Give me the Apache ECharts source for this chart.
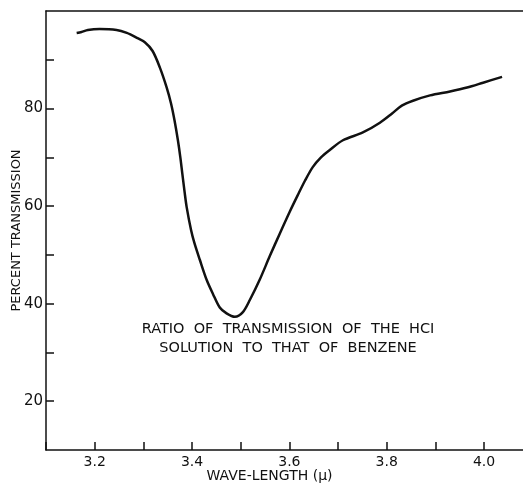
<!DOCTYPE html>
<html>
<head>
<meta charset="utf-8">
<script src="https://cdn.jsdelivr.net/npm/echarts@6/dist/echarts.min.js"></script>
<style>
  html, body { margin: 0; padding: 0; background: #fff; }
  #chart { width: 523px; height: 485px; }
</style>
</head>
<body>
<div id="chart"></div>
<script>
// wave-length (micron) and percent transmission
const waveLength = [
    3.163, 3.173, 3.186, 3.210, 3.245, 3.266, 3.285, 3.303, 3.319, 3.334,
    3.348, 3.357, 3.364, 3.371, 3.376, 3.380, 3.385, 3.389, 3.398, 3.405,
    3.416, 3.430, 3.443, 3.457, 3.471, 3.488, 3.504, 3.519, 3.539, 3.560,
    3.580, 3.601, 3.617, 3.632, 3.648, 3.665, 3.683, 3.710, 3.751, 3.786,
    3.811, 3.831, 3.854, 3.889, 3.930, 3.965, 3.998, 4.037
];
const transmission = [
    95.5, 95.7, 96.1, 96.3, 96.1, 95.5, 94.6, 93.6, 91.8, 88.4,
    84.3, 81.0, 77.6, 73.5, 70.0, 66.7, 62.7, 59.8, 55.1, 52.4,
    49.0, 44.9, 42.0, 39.2, 38.0, 37.3, 38.2, 40.8, 44.9, 49.8,
    54.3, 58.9, 62.2, 65.2, 68.0, 70.0, 71.5, 73.5, 75.1, 77.1,
    79.0, 80.6, 81.6, 82.7, 83.5, 84.3, 85.3, 86.5
];
const yLabels = [20, 40, 60, 80];
const xLabels = [3.2, 3.4, 3.6, 3.8, 4.0];
const note = ["RATIO  OF  TRANSMISSION  OF  THE  HCI", "SOLUTION  TO  THAT  OF  BENZENE"];

const chart = echarts.init(document.getElementById("chart"), null, { width: 523, height: 485 });

const font = "DejaVu Sans";
const ink = "#111";

const option = {
    backgroundColor: "#fff",
    animation: false,
    grid: { left: 46, right: 0, top: 11, bottom: 35, outerBoundsMode: "none", containLabel: false },
    xAxis: [
        {
            type: "value",
            min: 3.1,
            max: 4.08,
            interval: 0.1,
            name: "WAVE-LENGTH (\u03bc)",
            nameLocation: "middle",
            nameGap: 19,
            nameMoveOverlap: false,
            nameTextStyle: { fontFamily: font, fontSize: 14, color: ink, padding: [0, 30, 0, 0] },
            axisLine: { lineStyle: { color: ink, width: 1.5 } },
            axisTick: { inside: true, length: 8, lineStyle: { color: ink, width: 1.5 } },
            axisLabel: {
                fontFamily: font, fontSize: 14, color: ink, margin: 5,
                showMaxLabel: false,
                formatter: (v) => {
                    const r = Math.round(v * 10) / 10;
                    return xLabels.some((l) => Math.abs(l - r) < 1e-6) ? r.toFixed(1) : "";
                },
            },
            splitLine: { show: false },
        },
        {
            type: "value",
            position: "top",
            min: 3.1,
            max: 4.08,
            axisLine: { show: true, lineStyle: { color: ink, width: 1.5 } },
            axisTick: { show: false },
            axisLabel: { show: false },
            splitLine: { show: false },
        },
    ],
    yAxis: {
        type: "value",
        min: 10,
        max: 100,
        interval: 10,
        name: "PERCENT TRANSMISSION",
        nameLocation: "middle",
        nameGap: 23,
        nameMoveOverlap: false,
        nameTextStyle: { fontFamily: font, fontSize: 13, color: ink },
        axisLine: { show: true, lineStyle: { color: ink, width: 1.5 } },
        axisTick: { inside: true, length: 8, lineStyle: { color: ink, width: 1.5 } },
        axisLabel: {
            fontFamily: font, fontSize: 15, color: ink, margin: 3,
            showMaxLabel: false, showMinLabel: false,
            formatter: (v) => (yLabels.includes(v) ? String(v) : ""),
        },
        splitLine: { show: false },
    },
    graphic: [
        {
            type: "text",
            x: 288,
            y: 320,
            style: {
                text: note.join("\n"),
                fontFamily: font,
                fontSize: 14.5,
                fill: ink,
                align: "center",
                verticalAlign: "top",
                lineHeight: 19,
            },
        },
    ],
    series: [
        {
            type: "line",
            xAxisIndex: 0,
            data: waveLength.map((x, i) => [x, transmission[i]]),
            smooth: 0.3,
            symbol: "none",
            lineStyle: { color: ink, width: 2.5 },
        },
    ],
};

chart.setOption(option);
</script>
</body>
</html>
